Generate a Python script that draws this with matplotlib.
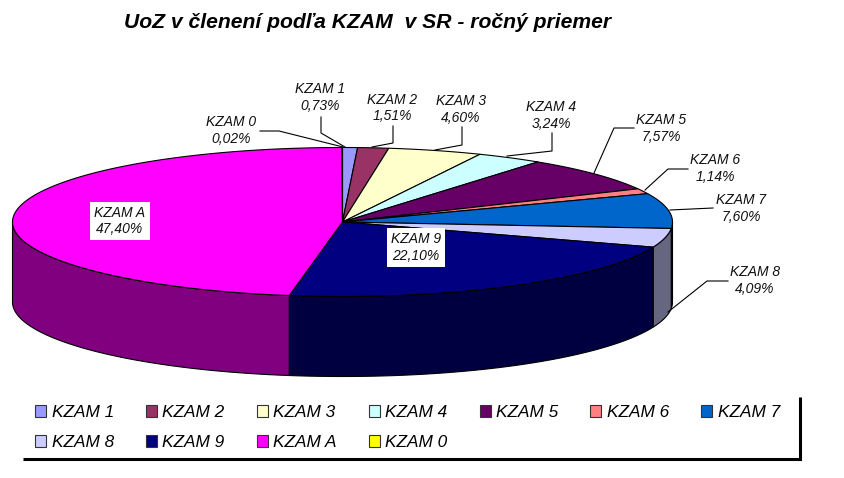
import numpy as np
import matplotlib
matplotlib.use("Agg")
import matplotlib.pyplot as plt
from matplotlib.patches import Polygon, Patch

title = "UoZ v členení podľa KZAM  v SR - ročný priemer"
categories = ["KZAM 1", "KZAM 2", "KZAM 3", "KZAM 4", "KZAM 5", "KZAM 6",
              "KZAM 7", "KZAM 8", "KZAM 9", "KZAM A", "KZAM 0"]
shares = [0.73, 1.51, 4.60, 3.24, 7.57, 1.14, 7.60, 4.09, 22.10, 47.40, 0.02]
colors = ["#9999FF", "#993366", "#FFFFCC", "#CCFFFF", "#660066", "#FF8080",
          "#0066CC", "#CCCCFF", "#000080", "#FF00FF", "#FFFF00"]
side_colors = ["#4D4D80", "#4D1A33", "#808066", "#668080", "#330033", "#804040",
               "#003366", "#666680", "#000040", "#800080", "#808000"]

CX, CY, RX, RY, DEPTH = 342.5, 222.0, 330.0, 74.5, 80.0

label_pos = {
    "KZAM 0": (231, 130.5), "KZAM 1": (320, 97.5), "KZAM 2": (392, 108), "KZAM 3": (461, 109.5),
    "KZAM 4": (551, 115.5), "KZAM 5": (661, 128.5), "KZAM 6": (715, 168.5), "KZAM 7": (741, 208.5),
    "KZAM 8": (755, 280.5), "KZAM A": (120, 221), "KZAM 9": (416, 247.5),
}
leaders = {
    "KZAM 0": [(260, 131), (279, 131), (343, 147)],
    "KZAM 1": [(321, 117), (321, 133), (345, 147)],
    "KZAM 2": [(393, 126), (393, 143), (372, 147)],
    "KZAM 3": [(462, 127), (462, 145), (435, 150)],
    "KZAM 4": [(552, 133), (552, 151), (507, 156)],
    "KZAM 5": [(634, 128), (614, 128), (594, 173)],
    "KZAM 6": [(688, 169), (668, 169), (645, 190)],
    "KZAM 7": [(713, 208), (670, 210)],
    "KZAM 8": [(728, 281), (707, 281), (668, 312)],
}

plt.rcParams["font.family"] = ["Liberation Sans", "DejaVu Sans"]
fig = plt.figure(figsize=(8.45, 4.78), dpi=100)
ax = fig.add_axes([0, 0, 1, 1])
ax.set_xlim(0, 845)
ax.set_ylim(478, 0)
ax.axis("off")


def arc(t0, t1, n=None):
    n = n or max(2, int(abs(t1 - t0) * 120) + 2)
    t = np.linspace(t0, t1, n)
    return np.column_stack([CX + RX * np.sin(t), CY - RY * np.cos(t)])


edges = np.concatenate([[0], np.cumsum(shares)]) / sum(shares) * 2 * np.pi

# side wall (only the front half of the rim is visible)
for i in range(len(shares)):
    a, b = max(edges[i], np.pi / 2), min(edges[i + 1], 3 * np.pi / 2)
    if b > a:
        top = arc(a, b)
        bottom = top[::-1] + [0, DEPTH]
        ax.add_patch(Polygon(np.vstack([top, bottom]), closed=True, fc=side_colors[i],
                             ec="black", lw=0.8, zorder=2))

# top face
for i in range(len(shares)):
    pts = np.vstack([[CX, CY], arc(edges[i], edges[i + 1])])
    ax.add_patch(Polygon(pts, closed=True, fc=colors[i], ec="black", lw=0.8,
                         joinstyle="round", zorder=3))

# leaders
for name, pts in leaders.items():
    xs, ys = zip(*pts)
    ax.plot(xs, ys, color="black", lw=0.8, zorder=4)

# data labels
for name, val in zip(categories, shares):
    txt = f"{name}\n{val:.2f}".replace(".", ",") + "%"
    x, y = label_pos[name]
    box = None
    if name in ("KZAM A", "KZAM 9"):
        box = dict(fc="white", ec="none", pad=3.0)
    ax.text(x, y, txt, ha="center", va="center", fontsize=10, style="italic",
            color="#111111", linespacing=1.2, bbox=box, zorder=5)

ax.text(368, 22, title, ha="center", va="center", fontsize=15.2,
        style="italic", weight="bold", color="black")

# legend: matplotlib fills columns first, so feed it in column order
order = [0, 7, 1, 8, 2, 9, 3, 10, 4, 5, 6]
handles = [Patch(fc=colors[i], ec="#333333", lw=0.8, label=categories[i]) for i in order]
ax.legend(handles=handles, ncol=7, loc="upper left", bbox_to_anchor=(35, 405),
          bbox_transform=ax.transData, frameon=False, borderpad=0, borderaxespad=0,
          prop=dict(family="Liberation Sans", style="italic", size=12.4),
          handlelength=0.64, handleheight=0.64, handletextpad=0.32,
          columnspacing=1.86, labelspacing=0.88)

ax.plot([23, 800, 800], [459, 459, 397], color="black", lw=2.2,
        solid_joinstyle="miter", solid_capstyle="butt", zorder=6)

fig.savefig("out.png", dpi=100, facecolor="white")
